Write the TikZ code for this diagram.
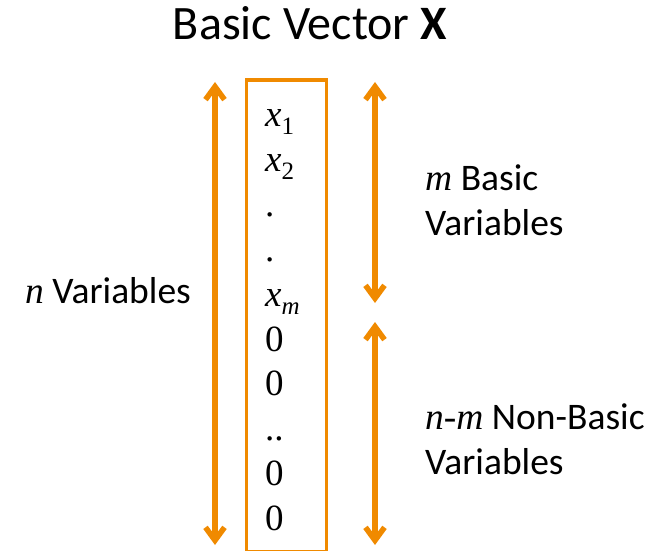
\documentclass[tikz,border=0pt]{standalone}
\usepackage{fontspec}
\setmainfont{Carlito}
\newfontfamily\serifmath{Liberation Serif}
\usetikzlibrary{arrows.meta, positioning, calc}
\definecolor{vecorange}{RGB}{240,138,0}
\newcommand{\xsub}[1]{{\itshape x}\raisebox{-8pt}{\fontsize{25}{25}\selectfont #1}}
\newcommand{\mvar}[1]{{\serifmath\itshape #1}}
\tikzstyle{entry} = [anchor=base west, inner sep=0pt, font=\serifmath\fontsize{37}{37}\selectfont]
\tikzstyle{sidetext} = [anchor=base west, inner sep=0pt, align=left, font=\fontsize{37.5}{45}\selectfont]
\tikzstyle{span} = [draw=vecorange, line width=5.5pt, {Straight Barb[length=13pt, width=19pt]}-{Straight Barb[length=13pt, width=19pt]}]

\begin{document}
\begin{tikzpicture}[x=1pt, y=-1pt]
    \useasboundingbox (0,0) rectangle (654,551);

    % Title
    \node (title) [inner sep=0pt, font=\fontsize{48}{48}\selectfont] at (310,23) {Basic Vector \textbf{X}};

    % Vector box and its entries
    \node (vec) [draw=vecorange, line width=3.5pt, minimum width=80pt, minimum height=472pt, inner sep=0pt] at (286.5,316) {};
    \foreach \txt [count=\i from 0] in {\xsub{1}, \xsub{2}, ., ., \xsub{\itshape m}, 0, 0, .., 0, 0}
        \node (e\i) [entry] at (265,{127+44.8*\i}) {\txt};

    % Arrow ends
    \coordinate (ntop) at (215,82);
    \coordinate (nbot) at (215,545);
    \coordinate (mtop) at (375,82);
    \coordinate (mbot) at (375,303);
    \coordinate (nmtop) at (375,322);
    \coordinate (nmbot) at (375,545);

    % Side labels
    \node (nlab) [sidetext] at (25,303) {\mvar{n} Variables};
    \node (mlab) [sidetext] at (425,235) {\mvar{m} Basic\\Variables};
    \node (nmlab) [sidetext] at (425,474) {\mvar{n-m} Non-Basic\\Variables};

    % Arrows
    \draw [span] (ntop) -- (nbot);
    \draw [span] (mtop) -- (mbot);
    \draw [span] (nmtop) -- (nmbot);
\end{tikzpicture}
\end{document}
